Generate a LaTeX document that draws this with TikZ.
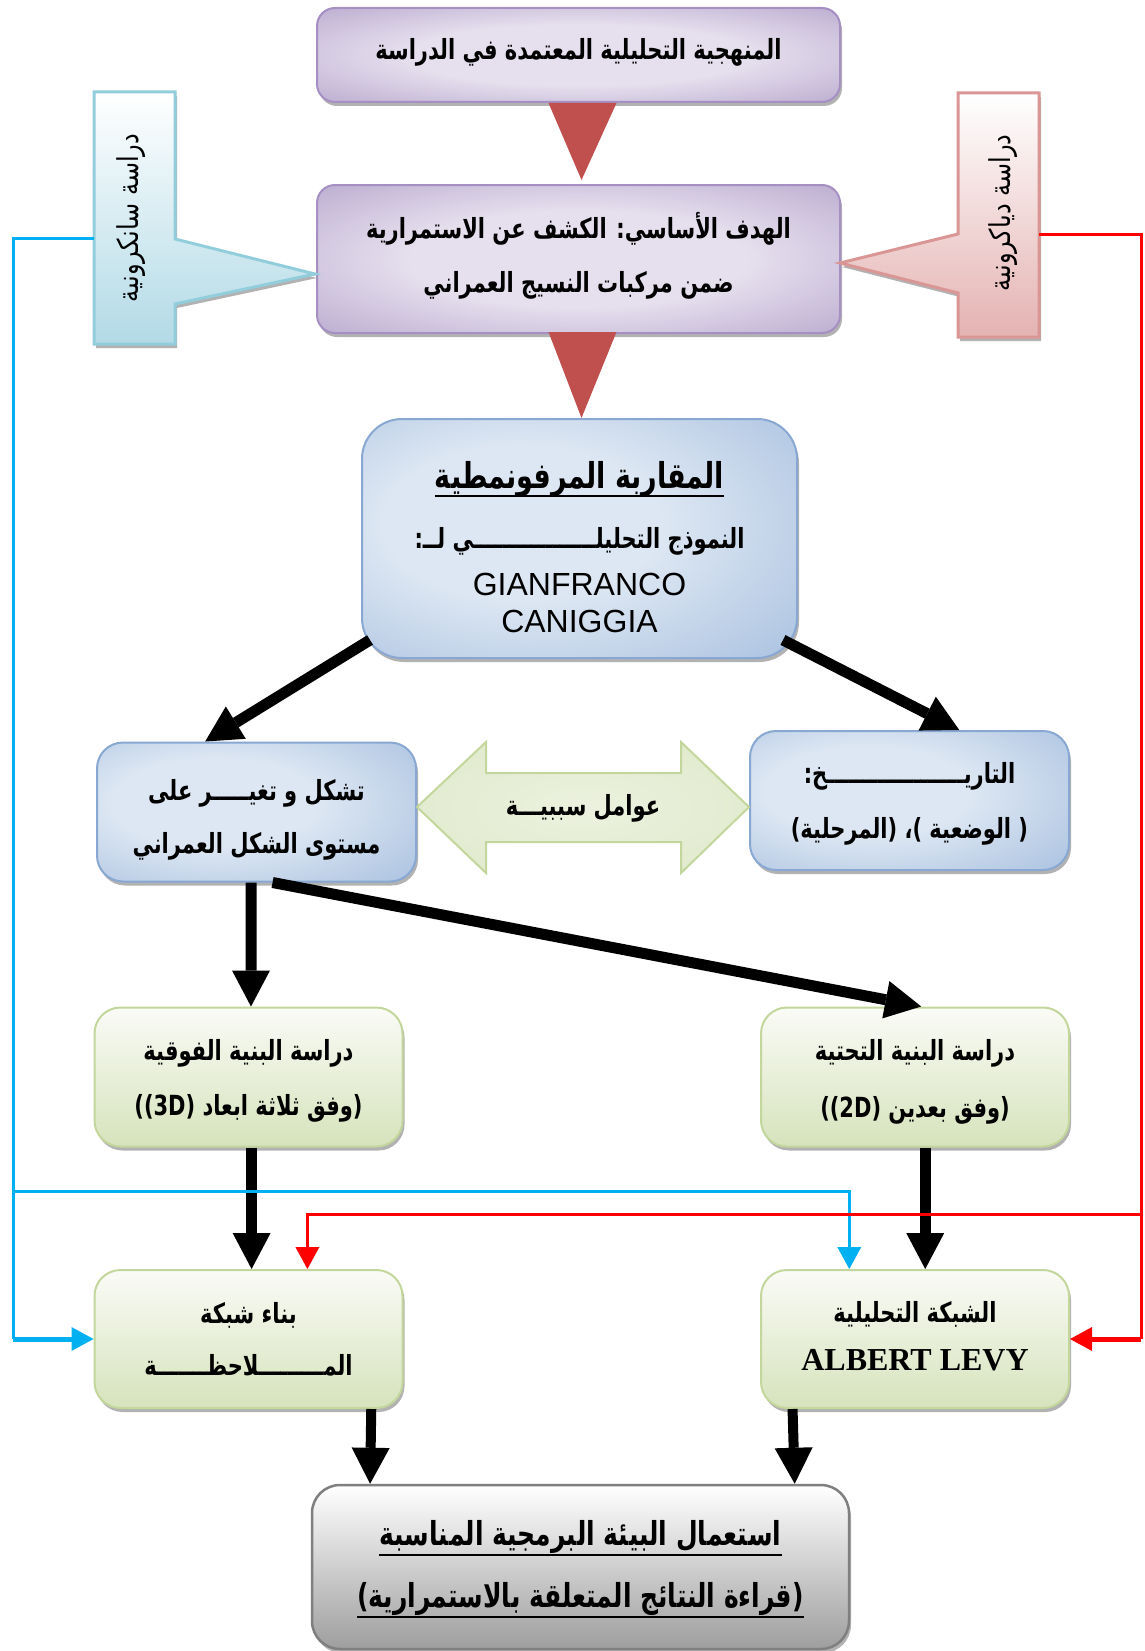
\documentclass[tikz,border=0pt]{standalone}
\usepackage{fontspec}
\usetikzlibrary{arrows.meta,calc,shadows}
\TeXXeTstate=1
\newfontfamily\arb[Script=Arabic]{DejaVu Sans}
\newfontfamily\latsans{Liberation Sans}
\newfontfamily\latserif{Liberation Serif}
% Arabic line, set right to left and slightly stretched in height
\newcommand{\artext}[1]{\scalebox{1}[1.32]{\beginR #1\endR}}
\newcommand{\arside}[1]{\scalebox{1}[1.2]{\beginR #1\endR}}

\definecolor{purpL}{HTML}{E6E0EE}
\definecolor{purpD}{HTML}{AB98C4}
\definecolor{purpB}{HTML}{A58FC3}
\definecolor{blueL}{HTML}{DDE7F3}
\definecolor{blueD}{HTML}{92B0D7}
\definecolor{blueB}{HTML}{88A8D3}
\definecolor{grnT}{HTML}{FAFBF6}
\definecolor{grnD}{HTML}{D6E3BC}
\definecolor{grnB}{HTML}{C3D69B}
\definecolor{gryT}{HTML}{FFFFFF}
\definecolor{gryD}{HTML}{9E9E9E}
\definecolor{gryB}{HTML}{7F7F7F}
\definecolor{cyanT}{HTML}{FFFFFF}
\definecolor{cyanD}{HTML}{B2DAE6}
\definecolor{cyanB}{HTML}{92CDDC}
\definecolor{pinkT}{HTML}{FFFFFF}
\definecolor{pinkD}{HTML}{E4B3B2}
\definecolor{pinkB}{HTML}{D99694}
\definecolor{tri}{HTML}{C0504D}
\definecolor{lineblue}{HTML}{00B0F0}
\definecolor{linered}{HTML}{FF0000}

\pgfdeclareradialshading{purpsh}{\pgfpoint{0bp}{0bp}}{color(0bp)=(purpL); color(16bp)=(purpL); color(44bp)=(purpD); color(80bp)=(purpD)}
\pgfdeclareradialshading{bluesh}{\pgfpoint{-8bp}{4bp}}{color(0bp)=(blueL); color(16bp)=(blueL); color(52bp)=(blueD); color(90bp)=(blueD)}
\pgfdeclareradialshading{grnsh}{\pgfpoint{0bp}{0bp}}{color(0bp)=(grnT!60!grnD); color(30bp)=(grnT!30!grnD); color(60bp)=(grnD)}

\tikzset{
  box/.style={draw, line width=2pt, inner sep=0pt,
    drop shadow={shadow xshift=2pt, shadow yshift=-4pt, fill=black!30, opacity=1}},
  purpbox/.style={box, draw=purpB, shading=purpsh, rounded corners=18pt,
    minimum width=523pt, minimum height=#1},
  bluebox/.style={box, draw=blueB, shading=bluesh, rounded corners=26pt,
    minimum width=319pt, minimum height=139pt},
  grnbox/.style={box, draw=grnB, top color=grnT, bottom color=grnD, rounded corners=26pt,
    minimum width=308pt, minimum height=139pt},
  txt/.style={inner sep=0pt, anchor=base, font=\arb\bfseries\fontsize{21}{25}\selectfont},
  bigtxt/.style={txt, font=\arb\bfseries\fontsize{25}{29}\selectfont},
  sidetxt/.style={rotate=90, inner sep=0pt, font=\arb\fontsize{24}{28}\selectfont},
  bigarrow/.style={line width=11pt, -{Triangle[length=36pt,width=38pt,line width=0pt]}},
  thinline/.style={line width=3pt},
  thintip/.style={-{Triangle[length=22pt,width=24pt,line width=0pt]}},
}

\begin{document}
\begin{tikzpicture}[x=1pt,y=-1pt]
\useasboundingbox (0,0) rectangle (1144,1651);

% ---------- top purple boxes ----------
\node[purpbox=94pt] (method) at (578.5,55) {};
\node[txt] (tmethod) at (578.5,60) {\artext{المنهجية التحليلية المعتمدة في الدراسة}};

\node[purpbox=148pt] (goal) at (578.5,259) {};
\node[txt] (tgoalA) at (578.5,238) {\artext{الهدف الأساسي: الكشف عن الاستمرارية}};
\node[txt] (tgoalB) at (578.5,292) {\artext{ضمن مركبات النسيج العمراني}};

% ---------- side callouts ----------
\coordinate (syncL) at (94,238);
\coordinate (diaR) at (1039,234);
\path[draw=cyanB, line width=3pt, top color=cyanT, bottom color=cyanD,
      drop shadow={shadow xshift=2pt, shadow yshift=-4pt, fill=black!30, opacity=1}]
  (94,92) -- (175,92) -- (175,239) -- (315,274) -- (175,304) -- (175,344) -- (94,344) -- cycle;
\node[sidetxt] (tsync) at (131,218) {\arside{دراسة سانكرونية}};

\path[draw=pinkB, line width=3pt, top color=pinkT, bottom color=pinkD,
      drop shadow={shadow xshift=2pt, shadow yshift=-4pt, fill=black!30, opacity=1}]
  (958,93) -- (1039,93) -- (1039,337) -- (958,337) -- (958,293) -- (840,263) -- (958,234) -- cycle;
\node[sidetxt] (tdia) at (1003,213) {\arside{دراسة دياكرونية}};

% ---------- central model box ----------
\node[box, draw=blueB, shading=bluesh, rounded corners=40pt,
      minimum width=435pt, minimum height=239pt] (model) at (579.5,538.5) {};
\node[txt, font=\arb\bfseries\fontsize{27}{30}\selectfont] (tmodelA) at (579.5,488) {\artext{المقاربة المرفونمطية}};
\draw[line width=2pt] ([yshift=-8pt]tmodelA.base west) -- ([yshift=-8pt]tmodelA.base east);
\node[txt] (tmodelB) at (579.5,548) {\artext{النموذج التحليلـــــــــــــــــي لــ:}};
\node[inner sep=0pt, anchor=base, font=\latsans\fontsize{32}{36}\selectfont] (tmodelC) at (579.5,595) {GIANFRANCO};
\node[inner sep=0pt, anchor=base, font=\latsans\fontsize{32}{36}\selectfont] (tmodelD) at (579.5,632) {CANIGGIA};

% ---------- red triangles ----------
\fill[tri] ($(method.south)+(-30,0)$) -- ($(method.south)+(38,0)$) -- ($(goal.north)+(3,-4)$) -- cycle;
\fill[tri] ($(goal.south)+(-30,-2)$) -- ($(goal.south)+(38,-2)$) -- ($(model.north)+(2,0)$) -- cycle;

% ---------- middle row ----------
\node[bluebox] (form) at (256.5,812) {};
\node[txt] (tformA) at (256.5,800) {\artext{تشكل و تغيـــــر على}};
\node[txt] (tformB) at (256.5,853) {\artext{مستوى الشكل العمراني}};

\node[bluebox] (hist) at (909.5,800.5) {};
\node[txt] (thistA) at (909.5,783) {\artext{التاريـــــــــــــــــــخ:}};
\node[txt] (thistB) at (909.5,838) {\artext{( الوضعية )، (المرحلية)}};

% double arrow between the two
\path[draw=grnB, line width=2pt, shading=grnsh]
  (form.east |- 0,807) -- (486,742) -- (486,773) -- (681,773) -- (681,742)
  -- (hist.west |- 0,807) -- (681,873) -- (681,842) -- (486,842) -- (486,873) -- cycle;
\node[txt] (tcause) at (583,815) {\artext{عوامل سببيـــة}};

% ---------- lower rows ----------
\node[grnbox] (sup) at (248.5,1077) {};
\node[txt] (tsupA) at (248.5,1060) {\artext{دراسة البنية الفوقية}};
\node[txt] (tsupB) at (248.5,1115) {\artext{(وفق ثلاثة ابعاد (\beginL 3D\endL))}};

\node[grnbox] (inf) at (915,1077) {};
\node[txt] (tinfA) at (915,1060) {\artext{دراسة البنية التحتية}};
\node[txt] (tinfB) at (915,1117) {\artext{(وفق بعدين (\beginL 2D\endL))}};

\node[grnbox, minimum height=138pt] (obs) at (248.5,1339) {};
\node[txt] (tobsA) at (248.5,1323) {\artext{بناء شبكة}};
\node[txt] (tobsB) at (248.5,1375) {\artext{المـــــــــلاحظـــــــة}};

\node[grnbox, minimum height=138pt] (net) at (915,1339) {};
\node[txt] (tnetA) at (915,1322) {\artext{الشبكة التحليلية}};
\node[inner sep=0pt, anchor=base, font=\latserif\bfseries\fontsize{32}{36}\selectfont] (tnetB) at (915,1370) {ALBERT LEVY};

% ---------- final box ----------
\node[box, draw=gryB, line width=2.5pt, top color=gryT, bottom color=gryD, rounded corners=28pt,
      minimum width=537pt, minimum height=164pt] (final) at (580.5,1567) {};
\node[bigtxt] (tfinA) at (580.5,1545) {\artext{استعمال البيئة البرمجية المناسبة}};
\draw[line width=2pt] ([yshift=-10pt]tfinA.base west) -- ([yshift=-10pt]tfinA.base east);
\node[bigtxt] (tfinB) at (580.5,1607) {\artext{(قراءة النتائج المتعلقة بالاستمرارية)}};
\draw[line width=2pt] ([yshift=-10pt]tfinB.base west) -- ([yshift=-10pt]tfinB.base east);

% ---------- black flow arrows ----------
\draw[bigarrow] ([shift={(9,-19)}]model.south west) -- ($(form.north west)!0.34!(form.north east)$);
\draw[bigarrow] ([shift={(-15,-19)}]model.south east) -- ($(hist.north west)!0.655!(hist.north east)$);
\draw[bigarrow] ($(form.south west)!0.483!(form.south east)$) -- ($(sup.north west)!0.508!(sup.north east)$);
\draw[bigarrow] ($(form.south west)!0.55!(form.south east)$) -- ($(inf.north west)!0.52!(inf.north east)$);
\draw[bigarrow] ($(sup.south west)!0.51!(sup.south east)$) -- ($(obs.north west)!0.51!(obs.north east)$);
\draw[bigarrow] ($(inf.south west)!0.533!(inf.south east)$) -- ($(net.north west)!0.533!(net.north east)$);
\draw[bigarrow, line width=10pt] ($(obs.south west)!0.896!(obs.south east)$) -- ($(final.north west)!0.11!(final.north east)$);
\draw[bigarrow, line width=10pt] ($(net.south west)!0.105!(net.south east)$) -- ($(final.north west)!0.897!(final.north east)$);

% ---------- synchronic (blue) links ----------
\coordinate (bl) at (13,0);
\coordinate (bj) at (13,1191);
\draw[thinline, lineblue] (syncL) -- (syncL -| bl) -- (bl |- obs.west);
\draw[lineblue, line width=5pt, thintip] (bl |- obs.west) -- (obs.west);
\draw[thinline, lineblue, thintip] (bj) -| ($(net.north west)!0.288!(net.north east)$);

% ---------- diachronic (red) links ----------
\coordinate (rl) at (1141,0);
\coordinate (rj) at (1141,1214);
\draw[thinline, linered] (diaR) -- (diaR -| rl) -- (rl |- net.east);
\draw[linered, line width=5pt, thintip] (rl |- net.east) -- (net.east);
\draw[thinline, linered, thintip] (rj) -| ($(obs.north west)!0.69!(obs.north east)$);

\end{tikzpicture}
\end{document}
